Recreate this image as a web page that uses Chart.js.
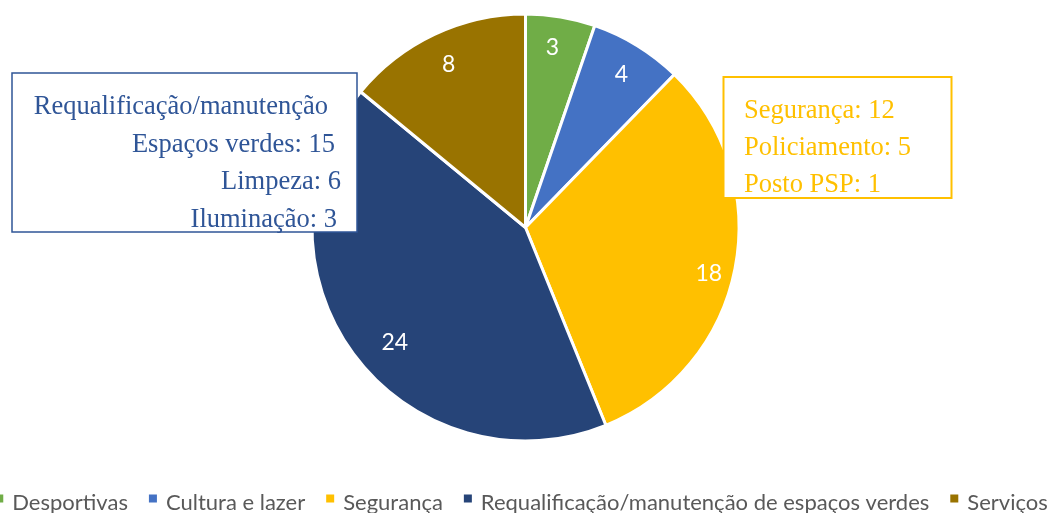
<!DOCTYPE html>
<html><head><meta charset="utf-8">
<script src="https://cdn.jsdelivr.net/npm/chart.js@4"></script>
<style>html,body{margin:0;padding:0;background:#fff;overflow:hidden}#wrap{width:1051px;height:513px;position:relative}</style>
</head><body><div id="wrap"><canvas id="c" width="1051" height="513"></canvas></div>
<script>
// ---- data ----
const categories = ['Desportivas', 'Cultura e lazer', 'Segurança', 'Requalificação/manutenção de espaços verdes', 'Serviços'];
const values = [3, 4, 18, 24, 8];
const leftBoxLines = ['Requalificação/manutenção', 'Espaços verdes: 15', 'Limpeza: 6', 'Iluminação: 3'];
const rightBoxLines = ['Segurança: 12', 'Policiamento: 5', 'Posto PSP: 1'];

// ---- styles ----
const colors = ['#70AD47', '#4472C4', '#FFC000', '#264478', '#997300'];
const labelRadiusFrac = [0.852, 0.846, 0.885, 0.815, 0.843];
const labelAngleShiftDeg = [-1, 0.5, 3, -5, 0];

const labelPlugin = {
  id: 'sliceLabels',
  afterDatasetsDraw(chart) {
    const ctx = chart.ctx;
    const meta = chart.getDatasetMeta(0);
    ctx.save();
    ctx.font = '23px Lato';
    ctx.fillStyle = '#FFFFFF';
    ctx.textAlign = 'center';
    ctx.textBaseline = 'middle';
    meta.data.forEach((arc, i) => {
      const p = arc.getProps(['x', 'y', 'startAngle', 'endAngle', 'outerRadius'], true);
      const mid = (p.startAngle + p.endAngle) / 2 + labelAngleShiftDeg[i] * Math.PI / 180;
      const r = p.outerRadius * labelRadiusFrac[i];
      ctx.fillText(String(chart.data.datasets[0].data[i]), p.x + Math.cos(mid) * r, p.y + Math.sin(mid) * r);
    });
    ctx.restore();
  }
};

const overlayPlugin = {
  id: 'overlay',
  afterDraw(chart) {
    const ctx = chart.ctx;
    ctx.save();
    // left box
    ctx.fillStyle = '#FFFFFF';
    ctx.fillRect(12, 73, 345, 159);
    ctx.strokeStyle = '#2F5597';
    ctx.lineWidth = 1.5;
    ctx.strokeRect(12, 73, 345, 159);
    ctx.font = '26.5px "Liberation Serif"';
    ctx.fillStyle = '#2F5597';
    ctx.textAlign = 'right';
    ctx.textBaseline = 'alphabetic';
    const lx = [328, 335, 341, 337], ly = [113.5, 151.5, 188.5, 226.5];
    leftBoxLines.forEach((t, i) => ctx.fillText(t, lx[i], ly[i]));
    // right box
    ctx.fillStyle = '#FFFFFF';
    ctx.fillRect(723.5, 77, 228, 121);
    ctx.strokeStyle = '#FFC000';
    ctx.lineWidth = 2;
    ctx.strokeRect(723.5, 77, 228, 121);
    ctx.fillStyle = '#FFC000';
    ctx.textAlign = 'left';
    const ry = [118, 155, 192];
    rightBoxLines.forEach((t, i) => ctx.fillText(t, 744, ry[i]));
    // legend
    ctx.font = '22px Lato';
    ctx.textBaseline = 'middle';
    const box = 8, gapBT = 9, gapItem = 21;
    const widths = categories.map(c => ctx.measureText(c).width);
    let total = 0;
    widths.forEach((w, i) => { total += box + gapBT + w + (i < widths.length - 1 ? gapItem : 0); });
    let x = 521.5 - total / 2;
    const yMid = 503;
    categories.forEach((c, i) => {
      ctx.fillStyle = colors[i];
      ctx.fillRect(x, 494.5, box, box);
      ctx.fillStyle = '#595959';
      ctx.fillText(c, x + box + gapBT, yMid);
      x += box + gapBT + widths[i] + gapItem;
    });
    ctx.restore();
  }
};

new Chart(document.getElementById('c'), {
  type: 'pie',
  data: {
    labels: categories,
    datasets: [{
      data: values,
      backgroundColor: colors,
      borderColor: '#FFFFFF',
      borderWidth: 3
    }]
  },
  options: {
    responsive: false,
    animation: false,
    layout: { padding: { top: 12.5, bottom: 70.5, left: 0, right: 0 } },
    plugins: { legend: { display: false }, tooltip: { enabled: false } }
  },
  plugins: [labelPlugin, overlayPlugin]
});
</script>
</body></html>
